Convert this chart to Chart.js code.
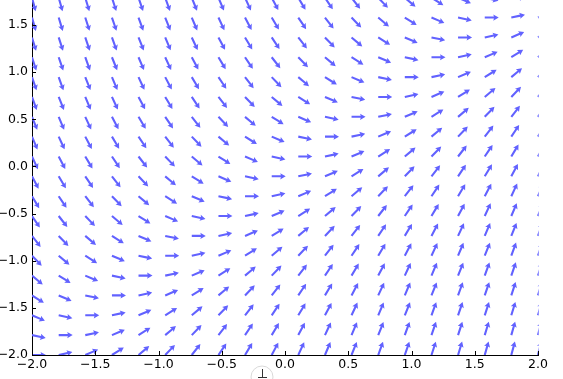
<!DOCTYPE html>
<html>
<head>
<meta charset="utf-8">
<script src="https://cdn.jsdelivr.net/npm/chart.js@4.4.0/dist/chart.umd.min.js"></script>
<style>
  html, body { margin: 0; padding: 0; background: #fff; }
  #quiver { display: block; }
</style>
</head>
<body>
<canvas id="quiver" width="563" height="379"></canvas>
<script>
// grid of arrow tails (same 20 steps on both axes, top row is cut off by the frame)
const xGrid = [-2.000, -1.789, -1.579, -1.368, -1.158, -0.947, -0.737, -0.526, -0.316, -0.105,
               0.105, 0.316, 0.526, 0.737, 0.947, 1.158, 1.368, 1.579, 1.789, 2.000];
const yGrid = [-2.000, -1.789, -1.579, -1.368, -1.158, -0.947, -0.737, -0.526, -0.316, -0.105,
               0.105, 0.316, 0.526, 0.737, 0.947, 1.158, 1.368, 1.579, 1.789];

// arrow direction in degrees, one row per yGrid value (bottom row first)
const angleRows = [
  [0, 12, 23, 32, 40, 46, 52, 56, 59, 62, 65, 67, 68, 70, 71, 72, 73, 74, 75, 76],
  [-12, 0, 12, 23, 32, 40, 46, 52, 56, 59, 62, 65, 67, 68, 70, 71, 72, 73, 74, 75],
  [-23, -12, 0, 12, 23, 32, 40, 46, 52, 56, 59, 62, 65, 67, 68, 70, 71, 72, 73, 74],
  [-32, -23, -12, 0, 12, 23, 32, 40, 46, 52, 56, 59, 62, 65, 67, 68, 70, 71, 72, 73],
  [-40, -32, -23, -12, 0, 12, 23, 32, 40, 46, 52, 56, 59, 62, 65, 67, 68, 70, 71, 72],
  [-46, -40, -32, -23, -12, 0, 12, 23, 32, 40, 46, 52, 56, 59, 62, 65, 67, 68, 70, 71],
  [-52, -46, -40, -32, -23, -12, 0, 12, 23, 32, 40, 46, 52, 56, 59, 62, 65, 67, 68, 70],
  [-56, -52, -46, -40, -32, -23, -12, 0, 12, 23, 32, 40, 46, 52, 56, 59, 62, 65, 67, 68],
  [-59, -56, -52, -46, -40, -32, -23, -12, 0, 12, 23, 32, 40, 46, 52, 56, 59, 62, 65, 67],
  [-62, -59, -56, -52, -46, -40, -32, -23, -12, 0, 12, 23, 32, 40, 46, 52, 56, 59, 62, 65],
  [-65, -62, -59, -56, -52, -46, -40, -32, -23, -12, 0, 12, 23, 32, 40, 46, 52, 56, 59, 62],
  [-67, -65, -62, -59, -56, -52, -46, -40, -32, -23, -12, 0, 12, 23, 32, 40, 46, 52, 56, 59],
  [-68, -67, -65, -62, -59, -56, -52, -46, -40, -32, -23, -12, 0, 12, 23, 32, 40, 46, 52, 56],
  [-70, -68, -67, -65, -62, -59, -56, -52, -46, -40, -32, -23, -12, 0, 12, 23, 32, 40, 46, 52],
  [-71, -70, -68, -67, -65, -62, -59, -56, -52, -46, -40, -32, -23, -12, 0, 12, 23, 32, 40, 46],
  [-72, -71, -70, -68, -67, -65, -62, -59, -56, -52, -46, -40, -32, -23, -12, 0, 12, 23, 32, 40],
  [-73, -72, -71, -70, -68, -67, -65, -62, -59, -56, -52, -46, -40, -32, -23, -12, 0, 12, 23, 32],
  [-74, -73, -72, -71, -70, -68, -67, -65, -62, -59, -56, -52, -46, -40, -32, -23, -12, 0, 12, 23],
  [-75, -74, -73, -72, -71, -70, -68, -67, -65, -62, -59, -56, -52, -46, -40, -32, -23, -12, 0, 12],
];

const xTicks = [-2, -1.5, -1, -0.5, 0, 0.5, 1, 1.5, 2];
const yTicks = [-2, -1.5, -1, -0.5, 0, 0.5, 1, 1.5];

const ARROW_COLOR = "#6262ff";
const ARROW_LEN = 14;
const SHAFT_W = 2.1;
const HEAD_W = 6.2;
const HEAD_LEN = 5.5;
const HEAD_AXIS = 4.8;

const points = [];
yGrid.forEach((y, r) => {
  xGrid.forEach((x, c) => {
    points.push({ x, y, a: angleRows[r][c] });
  });
});

const fmt = (v) => v.toFixed(1).replace("-", "\u2212");

const quiverPlugin = {
  id: "quiverArrows",
  afterDatasetsDraw(chart) {
    const { ctx, chartArea, scales } = chart;
    const data = chart.data.datasets[0].data;
    ctx.save();
    ctx.beginPath();
    ctx.rect(chartArea.left, chartArea.top, chartArea.right - chartArea.left + 0.7, chartArea.bottom - chartArea.top);
    ctx.clip();
    ctx.fillStyle = ARROW_COLOR;
    data.forEach((p) => {
      const px = scales.x.getPixelForValue(p.x);
      const py = scales.y.getPixelForValue(p.y);
      ctx.save();
      ctx.translate(px, py);
      ctx.rotate((-p.a * Math.PI) / 180);
      ctx.beginPath();
      ctx.moveTo(0, -SHAFT_W / 2);
      ctx.lineTo(ARROW_LEN - HEAD_AXIS, -SHAFT_W / 2);
      ctx.lineTo(ARROW_LEN - HEAD_LEN, -HEAD_W / 2);
      ctx.lineTo(ARROW_LEN, 0);
      ctx.lineTo(ARROW_LEN - HEAD_LEN, HEAD_W / 2);
      ctx.lineTo(ARROW_LEN - HEAD_AXIS, SHAFT_W / 2);
      ctx.lineTo(0, SHAFT_W / 2);
      ctx.closePath();
      ctx.fill();
      ctx.restore();
    });
    ctx.restore();
  },
  afterDraw(chart) {
    const { ctx, chartArea, scales } = chart;
    ctx.save();
    ctx.strokeStyle = "#000";
    ctx.lineWidth = 1;
    // inward tick marks
    xTicks.forEach((v) => {
      const x = Math.round(scales.x.getPixelForValue(v)) + 0.5;
      ctx.beginPath();
      ctx.moveTo(x, chartArea.bottom);
      ctx.lineTo(x, chartArea.bottom - 4);
      ctx.stroke();
    });
    yTicks.forEach((v) => {
      const y = Math.round(scales.y.getPixelForValue(v)) + 0.5;
      ctx.beginPath();
      ctx.moveTo(chartArea.left, y);
      ctx.lineTo(chartArea.left + 4, y);
      ctx.stroke();
    });
    // round button peeking in at the bottom edge
    ctx.strokeStyle = "#d9d9d9";
    ctx.beginPath();
    ctx.arc(262, 377, 11, 0, Math.PI * 2);
    ctx.stroke();
    ctx.strokeStyle = "#333";
    ctx.beginPath();
    ctx.moveTo(262.5, 369);
    ctx.lineTo(262.5, 377);
    ctx.moveTo(258, 377.5);
    ctx.lineTo(267, 377.5);
    ctx.stroke();
    ctx.restore();
  },
};

const axisFont = { family: "'DejaVu Sans', sans-serif", size: 12.5 };

new Chart(document.getElementById("quiver"), {
  type: "scatter",
  data: {
    datasets: [
      {
        data: points,
        pointRadius: 0,
        pointHoverRadius: 0,
      },
    ],
  },
  options: {
    responsive: false,
    animation: false,
    events: [],
    layout: { padding: { left: 0, right: 25, top: 0, bottom: 0 } },
    plugins: {
      legend: { display: false },
      tooltip: { enabled: false },
    },
    scales: {
      x: {
        type: "linear",
        min: -2,
        max: 2,
        grid: { display: false, drawTicks: false },
        border: { display: true, color: "#000", width: 1 },
        ticks: { color: "#000", font: axisFont, padding: 2, callback: (v) => fmt(v) },
        afterBuildTicks: (s) => { s.ticks = xTicks.map((value) => ({ value })); },
        afterFit: (s) => {
          s.height = 24;
          s.paddingLeft = 0;
          s.paddingRight = 0;
        },
      },
      y: {
        type: "linear",
        min: -2,
        max: 1.765,
        grid: { display: false, drawTicks: false },
        border: { display: true, color: "#000", width: 1 },
        ticks: { color: "#000", font: axisFont, padding: 4, callback: (v) => fmt(v) },
        afterBuildTicks: (s) => { s.ticks = yTicks.map((value) => ({ value })); },
        afterFit: (s) => {
          s.width = 32;
          s.paddingTop = 0;
          s.paddingBottom = 0;
        },
      },
    },
  },
  plugins: [quiverPlugin],
});
</script>
</body>
</html>
